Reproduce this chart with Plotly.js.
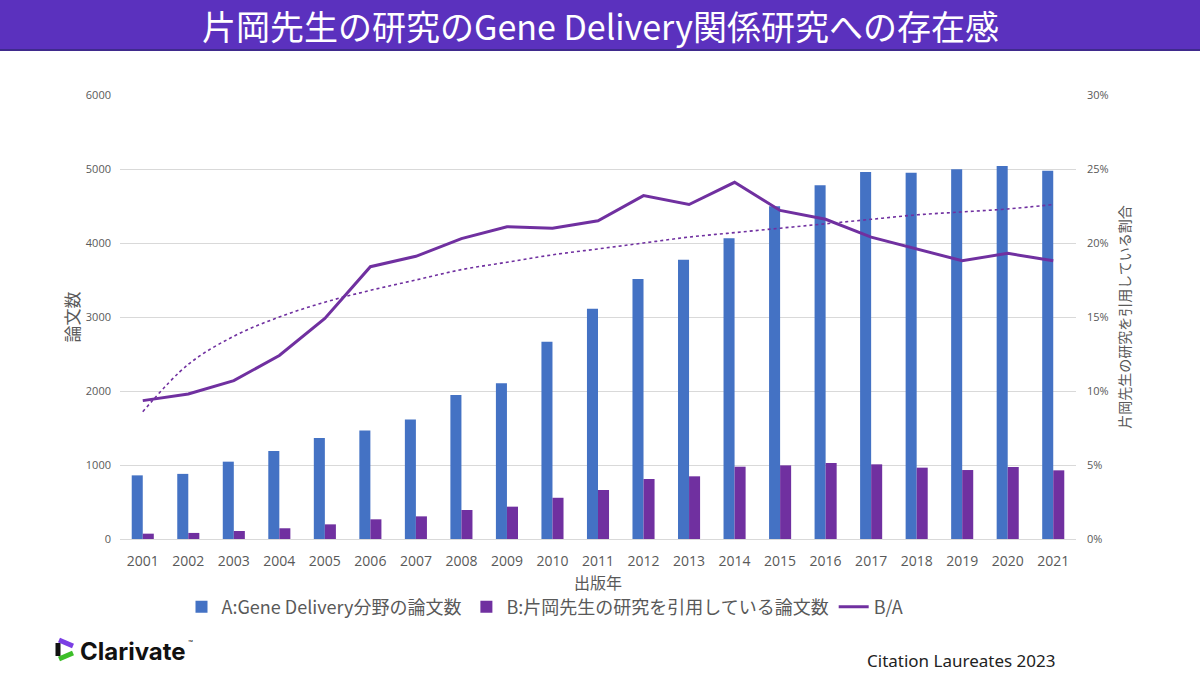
<!DOCTYPE html>
<html>
<head>
<meta charset="utf-8">
<script src="https://cdn.plot.ly/plotly-3.0.1.min.js"></script>
<style>
  html, body { margin: 0; padding: 0; background: #ffffff; }
  #chart { width: 1200px; height: 675px; }
</style>
</head>
<body>
<div id="chart"></div>
<script>
// ---- data ----
const years = ['2001','2002','2003','2004','2005','2006','2007','2008','2009','2010','2011','2012','2013','2014','2015','2016','2017','2018','2019','2020','2021'];
const papersA = [860, 880, 1045, 1190, 1365, 1465, 1615, 1945, 2105, 2665, 3110, 3515, 3775, 4065, 4495, 4780, 4960, 4950, 4995, 5040, 4975];
const papersB = [72, 82, 108, 145, 198, 266, 306, 392, 437, 557, 662, 811, 847, 977, 995, 1027, 1009, 964, 932, 973, 928];
const ratioBA = [0.0935, 0.098, 0.107, 0.124, 0.149, 0.184, 0.191, 0.203, 0.211, 0.210, 0.215, 0.232, 0.226, 0.241, 0.222, 0.216, 0.204, 0.196, 0.188, 0.193, 0.188];
const ratioTrend = [0.086, 0.118, 0.137, 0.150, 0.160, 0.168, 0.175, 0.182, 0.187, 0.192, 0.196, 0.200, 0.204, 0.207, 0.210, 0.213, 0.216, 0.219, 0.221, 0.223, 0.226];

const titleText = '片岡先生の研究のGene Delivery関係研究への存在感';
const nameA = 'A:Gene Delivery分野の論文数';
const nameB = 'B:片岡先生の研究を引用している論文数';
const nameRatio = 'B/A';
const yTitle = '論文数';
const y2Title = '片岡先生の研究を引用している割合';
const xTitle = '出版年';
const footerText = 'Citation Laureates 2023';
const logoText = 'Clarivate';

// ---- layout helpers (pixel -> paper) ----
const L = 120, R = 1076, T = 95, B = 539;
const px = v => (v - L) / (R - L);
const py = v => (B - v) / (B - T);

const FONT = '"Noto Sans CJK JP", "Noto Sans", sans-serif';
const GREY = '#595959';

const traces = [
  { type: 'bar', name: nameA, x: years, y: papersA, marker: { color: '#4472C4' }, yaxis: 'y' },
  { type: 'bar', name: nameB, x: years, y: papersB, marker: { color: '#7030A0' }, yaxis: 'y' },
  { type: 'scatter', mode: 'lines', name: nameRatio, x: years, y: ratioBA, yaxis: 'y2',
    line: { color: '#7030A0', width: 3 } },
  { type: 'scatter', mode: 'lines', name: 'trend', x: years, y: ratioTrend, yaxis: 'y2', showlegend: false,
    line: { color: '#7030A0', width: 1.6, dash: 'dot', shape: 'spline' } }
];

const layout = {
  width: 1200, height: 675,
  paper_bgcolor: '#ffffff', plot_bgcolor: '#ffffff',
  margin: { l: L, r: 1200 - R, t: T, b: 675 - B },
  font: { family: FONT, color: GREY },
  barmode: 'group', bargap: 0.515, bargroupgap: 0,
  showlegend: true,
  legend: {
    orientation: 'h', x: px(545), xanchor: 'center', y: py(607), yanchor: 'middle',
    font: { size: 18, color: GREY, family: FONT }, traceorder: 'normal', itemwidth: 30
  },
  xaxis: {
    type: 'category', showgrid: false, zeroline: false, showline: false,
    tickfont: { size: 14, color: GREY, family: '"Open Sans", sans-serif' },
    ticklabelstandoff: 12,
    title: { text: xTitle, font: { size: 16, color: GREY }, standoff: 4 }
  },
  yaxis: {
    range: [0, 6000], dtick: 1000, showgrid: true, gridcolor: '#d9d9d9', gridwidth: 1,
    zeroline: true, zerolinecolor: '#d9d9d9', showline: false,
    tickfont: { size: 11, color: GREY, family: '"Open Sans", sans-serif' },
    ticklabelstandoff: 8,
    title: { text: yTitle, font: { size: 17, color: GREY }, standoff: 1 }
  },
  yaxis2: {
    overlaying: 'y', side: 'right', range: [0, 0.30], dtick: 0.05, tickformat: '.0%',
    showgrid: false, zeroline: false, showline: false,
    tickfont: { size: 11, color: GREY, family: '"Open Sans", sans-serif' },
    ticklabelstandoff: 10,
    title: { text: y2Title, font: { size: 14, color: GREY }, standoff: 12 }
  },
  shapes: [
    { type: 'rect', xref: 'paper', yref: 'paper', x0: px(0), x1: px(1200), y0: py(49), y1: py(0),
      fillcolor: '#5B31BE', line: { width: 0 }, layer: 'below' },
    { type: 'line', xref: 'paper', yref: 'paper', x0: px(0), x1: px(1200), y0: py(50), y1: py(50),
      line: { color: '#3F2A8C', width: 2 } },
    // Clarivate mark
    { type: 'line', xref: 'paper', yref: 'paper', x0: px(58), x1: px(58), y0: py(643), y1: py(656),
      line: { color: '#111111', width: 5 } },
    { type: 'line', xref: 'paper', yref: 'paper', x0: px(59), x1: px(73), y0: py(640), y1: py(646),
      line: { color: '#7B3FE4', width: 5 } },
    { type: 'line', xref: 'paper', yref: 'paper', x0: px(73), x1: px(59), y0: py(653), y1: py(659),
      line: { color: '#3DBE29', width: 5 } }
  ],
  annotations: [
    { xref: 'paper', yref: 'paper', x: px(600), y: py(26), xanchor: 'center', yanchor: 'middle',
      text: titleText, showarrow: false, font: { size: 34, color: '#ffffff', family: FONT } },
    { xref: 'paper', yref: 'paper', x: px(78), y: py(651), xanchor: 'left', yanchor: 'middle',
      text: '<b>' + logoText + '</b>', showarrow: false,
      font: { size: 24, color: '#111111', family: 'Inter, "Noto Sans", sans-serif' } },
    { xref: 'paper', yref: 'paper', x: px(186), y: py(643), xanchor: 'left', yanchor: 'middle',
      text: '™', showarrow: false, font: { size: 8, color: '#111111', family: 'Inter, sans-serif' } },
    { xref: 'paper', yref: 'paper', x: px(1057), y: py(660), xanchor: 'right', yanchor: 'middle',
      text: footerText, showarrow: false, font: { size: 17, color: '#222222', family: '"Noto Sans", sans-serif' } }
  ]
};

Plotly.newPlot('chart', traces, layout, { displayModeBar: false, staticPlot: true });
</script>
</body>
</html>
